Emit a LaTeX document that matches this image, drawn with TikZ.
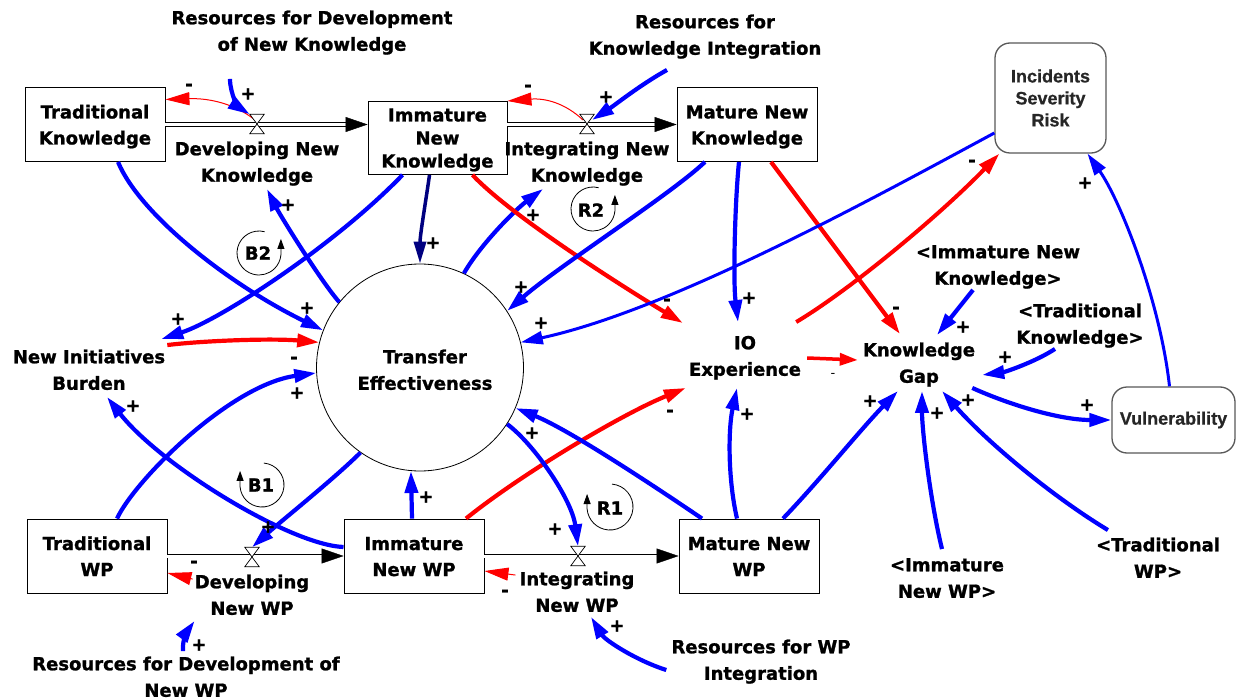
\documentclass[tikz,border=0pt]{standalone}
\usepackage{fontspec}
\setmainfont{DejaVu Sans}[BoldFeatures={FakeBold=1.2}]
\newfontfamily\lsans{Liberation Sans}[BoldFeatures={FakeBold=0.6}]
\usetikzlibrary{arrows.meta,calc}
\definecolor{lnkblue}{HTML}{0000FF}
\definecolor{lnkred}{HTML}{FF0000}
\definecolor{lnknavy}{HTML}{000080}
\tikzset{
 txt/.style={font=\fontsize{18}{26.5}\selectfont\bfseries, align=center, inner sep=0pt, text height=40.5pt, text depth=5pt},
 stock/.style={draw, line width=0.9pt, minimum width=140pt, minimum height=74pt, inner sep=0pt, font=\fontsize{18}{26}\selectfont\bfseries, align=center, text height=40pt, text depth=0pt},
 rbox/.style={draw=black!65, line width=1.3pt, rounded corners=15pt, inner sep=0pt, font=\lsans\fontsize{18}{22}\selectfont\bfseries, text=black!85, align=center},
 plink/.style={draw=lnkblue, line width=4.2pt, -{Triangle[length=22pt,width=13pt]}},
 nlink/.style={draw=lnkred, line width=4.2pt, -{Triangle[length=22pt,width=13pt]}},
 nthin/.style={draw=lnkred, line width=1pt, -{Triangle[length=24pt,width=13pt]}},
 sgn/.style={font=\fontsize{18}{18}\selectfont\bfseries, inner sep=0pt},
 pipe/.style={draw, line width=0.8pt, double distance=3pt},
 pipetip/.style={line width=0.4pt, -{Triangle[length=22pt,width=15pt]}},
 valve/.style={inner sep=0pt, minimum width=14pt, minimum height=19pt},
 loopc/.style={line width=0.8pt, -{Triangle[length=10pt,width=7pt]}},
 looplbl/.style={font=\fontsize{18}{18}\selectfont\bfseries, inner sep=0pt},
}
\begin{document}
\begin{tikzpicture}[x=1pt,y=-1pt]
\fill[white] (0,0) rectangle (1236,700);
\useasboundingbox (0,0) rectangle (1236,700);

% stocks
\node[stock] (tk) at (95,124.5) {Traditional\\Knowledge};
\node[stock, minimum width=139pt, minimum height=73pt, font=\fontsize{18}{23}\selectfont\bfseries, text height=60pt, text depth=1pt] (ink) at (437.5,138) {Immature\\New\\Knowledge};
\node[stock] (mnk) at (747,124.5) {Mature New\\Knowledge};
\node[stock] (twp) at (97,556) {Traditional\\WP};
\node[stock] (iwp) at (414,556) {Immature\\New WP};
\node[stock] (mwp) at (749,556) {Mature New\\WP};
\node[draw, circle, minimum size=207pt, inner sep=0pt, line width=0.8pt] (te) at (420,367.5) {};
\node[txt] (tel) at (425,372) {Transfer\\Effectiveness};
\node[rbox, minimum width=111pt, minimum height=110pt] (isr) at (1050.5,98) {Incidents\\Severity\\Risk};
\node[rbox, minimum width=123pt, minimum height=66pt] (vul) at (1173.5,420) {Vulnerability};

% variables
\node[txt] (rdnk) at (312,33) {Resources for Development\\of New Knowledge};
\node[txt] (rki) at (705,37) {Resources for\\Knowledge Integration};
\node[txt] (dnk) at (257,164) {Developing New\\Knowledge};
\node[txt] (inkf) at (587,164) {Integrating New\\Knowledge};
\node[txt] (nib) at (89,372) {New Initiatives\\Burden};
\node[txt] (io) at (745,358) {IO\\Experience};
\node[txt] (kg) at (919,365) {Knowledge\\Gap};
\node[txt] (ink2) at (998,267) {<Immature New\\Knowledge>};
\node[txt] (tk2) at (1080,326) {<Traditional\\Knowledge>};
\node[txt] (iwp2) at (947,580) {<Immature\\New WP>};
\node[txt] (twp2) at (1158,560) {<Traditional\\WP>};
\node[txt] (dnwp) at (252,597) {Developing\\New WP};
\node[txt] (inwp) at (577,594) {Integrating\\New WP};
\node[txt] (rdnwp) at (186,679) {Resources for Development of\\New WP};
\node[txt] (rwpi) at (761,662) {Resources for WP\\Integration};

% pipes
\coordinate (p1e) at (ink.west |- tk.east);
\coordinate (p2s) at (ink.east |- mnk.west);
\draw[pipe, shorten >=20pt] (tk.east) -- (p1e);
\draw[pipetip] ([xshift=-22pt]p1e) -- (p1e);
\draw[pipe, shorten >=20pt] (p2s) -- (mnk.west);
\draw[pipetip] ([xshift=-22pt]mnk.west) -- (mnk.west);
\draw[pipe, shorten >=20pt] (twp.east) -- (iwp.west);
\draw[pipetip] ([xshift=-22pt]iwp.west) -- (iwp.west);
\draw[pipe, shorten >=20pt] (iwp.east) -- (mwp.west);
\draw[pipetip] ([xshift=-22pt]mwp.west) -- (mwp.west);

\node[valve] (v1) at (257,124) {};
\node[valve] (v2) at (587,124) {};
\node[valve] (v3) at (252,557) {};
\node[valve] (v4) at (578,556) {};

% red thin outflow links
\draw[nthin] ([xshift=-2pt,yshift=4pt]v1.center) .. controls (235,104) and (210,98) .. ([yshift=25pt]tk.east);
\draw[nthin] ([xshift=-4pt,yshift=4pt]v2.center) .. controls (565,103) and (545,98) .. ([yshift=37pt]ink.east);
\draw[nthin] ([xshift=-2pt,yshift=-5pt]dnwp.north west) -- ([yshift=-17pt]twp.east);
\draw[nthin] ([xshift=-4pt,yshift=-4pt]inwp.north west) -- ([yshift=-15pt]iwp.east);

% valves drawn on top
\foreach \v in {v1,v2,v3,v4}{
  \draw[fill=white, line width=0.7pt] (\v.north west) -- (\v.north east) -- (\v.south west) -- (\v.south east) -- cycle;
}

% causal links
\draw[plink] ([xshift=-82pt,yshift=-23pt]rdnk.south) .. controls (230,95) and (240,108) .. (v1.north west);
\draw[plink] ([xshift=-38pt,yshift=-10pt]rki.south) .. controls (640,85) and (615,105) .. ([xshift=5pt,yshift=4pt]v2.center);
\draw[plink] ([xshift=23pt]tk.south) .. controls (140,215) and (230,285) .. (te.159);
\draw[plink] ([xshift=-35pt]ink.south) .. controls (335,245) and (220,320) .. ([xshift=-4pt,yshift=10pt]nib.north east);
\draw[plink] (te.141.5) .. controls (320,280) and (280,215) .. ([xshift=10pt,yshift=-2pt]dnk.south);
\draw[draw=lnknavy, line width=3.5pt, -{Triangle[length=22pt,width=12pt]}] ([xshift=-8pt]ink.south) .. controls (426,200) and (420,235) .. (te.north);
\draw[plink] (te.65.5) .. controls (480,245) and (515,210) .. ([xshift=-44pt,yshift=-2pt]inkf.south);
\draw[nlink] ([xshift=35pt]ink.south) .. controls (510,215) and (620,285) .. ([xshift=-6pt,yshift=12pt]io.north west);
\draw[plink] ([xshift=-42pt]mnk.south) .. controls (670,195) and (560,265) .. (te.33);
\draw[plink] ([xshift=-8pt]mnk.south) .. controls (735,200) and (733,280) .. ([xshift=-7pt,yshift=13pt]io.north);
\draw[nlink] ([xshift=24pt]mnk.south) -- ([xshift=-19pt,yshift=8pt]kg.north);
\draw[plink, line width=3pt] ([yshift=-35pt]isr.west) .. controls (870,200) and (670,310) .. (te.14);
\draw[nlink, line width=4pt] ([xshift=-5pt,yshift=13pt]io.north east) .. controls (850,290) and (940,215) .. ([xshift=5pt]isr.south west);
\draw[nlink, line width=3.5pt, -{Triangle[length=18pt,width=12pt]}] ([xshift=6pt]io.east) -- ([xshift=-5pt,yshift=5pt]kg.west);
\draw[plink] ([xshift=-25pt]ink2.south) -- ([xshift=18pt,yshift=7pt]kg.north);
\draw[plink] ([xshift=-25pt]tk2.south) .. controls (1035,362) and (1005,372) .. ([xshift=7pt,yshift=-10pt]kg.east);
\draw[plink] ([xshift=-3pt]kg.south east) .. controls (1010,405) and (1060,420) .. (vul.west);
\draw[plink, line width=3pt] ([xshift=-4pt]vul.north) .. controls (1160,300) and (1120,200) .. ([xshift=37pt]isr.south);
\draw[plink] ([xshift=34pt]mwp.north) .. controls (820,480) and (860,430) .. ([xshift=-21pt,yshift=-3pt]kg.south);
\draw[plink] ([xshift=-5pt,yshift=8pt]iwp2.north) .. controls (930,500) and (922,430) .. ([xshift=3pt,yshift=-3pt]kg.south);
\draw[plink] ([xshift=12pt,yshift=7pt]twp2.north west) .. controls (1050,495) and (985,440) .. ([xshift=23pt,yshift=-3pt]kg.south);
\draw[nlink] ([xshift=52pt]iwp.north) .. controls (520,475) and (620,415) .. ([xshift=-3pt,yshift=-7pt]io.south west);
\draw[plink] ([xshift=-12pt]mwp.north) .. controls (728,480) and (728,430) .. ([xshift=-8pt,yshift=-7pt]io.south);
\draw[plink] ([xshift=-47pt]mwp.north) .. controls (660,490) and (570,430) .. (te.-23);
\draw[plink] (te.-33) .. controls (535,445) and (572,500) .. (v4.north);
\draw[plink] ([xshift=-2pt]iwp.north) -- (te.-95);
\draw[plink] (te.-125) .. controls (335,478) and (280,522) .. (v3.north);
\draw[plink] ([yshift=9pt]iwp.west) .. controls (290,545) and (160,465) .. ([xshift=18pt,yshift=-2pt]nib.south);
\draw[plink] ([xshift=20pt]twp.north) .. controls (135,480) and (230,385) .. (te.-177.5);
\draw[nlink] ([xshift=2pt,yshift=4pt]nib.north east) .. controls (200,341) and (270,338) .. (te.166.5);
\draw[plink] ([xshift=-3pt,yshift=5pt]rdnwp.north) .. controls (182,640) and (188,630) .. ([yshift=-1pt]dnwp.south west);
\draw[plink] ([xshift=-5pt,yshift=-8pt]rwpi.west) .. controls (635,660) and (605,640) .. ([xshift=14pt]inwp.south);

% polarity signs
\foreach \p in {(248,94),(606,97),(288,205),(307,308),(178,319),(297,393),(133,406),(433,243),(533,215),(521,287),(541,323),(749,298),(1085,183),(963,327),(1005,357),(1087,405),(870,401),(937,413),(968,400),(747,414),(532,433),(555,529),(426,497),(268,527),(199,645),(617,626)}{
  \node[sgn] at \p {+};
}
\foreach \p in {(189,87),(528,88),(294,360),(667,302),(896,310),(972,163),(670,413),(194,564),(505,593)}{
  \node[sgn] at \p {-};
}
\node[font=\fontsize{13}{13}\selectfont, inner sep=0pt] at (833,375) {-};

% loop markers
\begin{scope}[shift={(259,253)}, y=1pt]
  \draw[loopc] (75:22) arc (75:355:22) -- ++(0,16);
\end{scope}
\node[looplbl] at (258,253) {B2};
\begin{scope}[shift={(593,209)}, y=1pt]
  \draw[loopc] (75:22) arc (75:355:22) -- ++(0,16);
\end{scope}
\node[looplbl] at (591,210) {R2};
\begin{scope}[shift={(262,485)}, y=1pt]
  \draw[loopc] (85:22) arc (85:-175:22) -- ++(0,16);
\end{scope}
\node[looplbl] at (261,485) {B1};
\begin{scope}[shift={(610,507)}, y=1pt]
  \draw[loopc] (85:23) arc (85:-175:23) -- ++(0,15);
\end{scope}
\node[looplbl] at (610,508) {R1};
\end{tikzpicture}
\end{document}
